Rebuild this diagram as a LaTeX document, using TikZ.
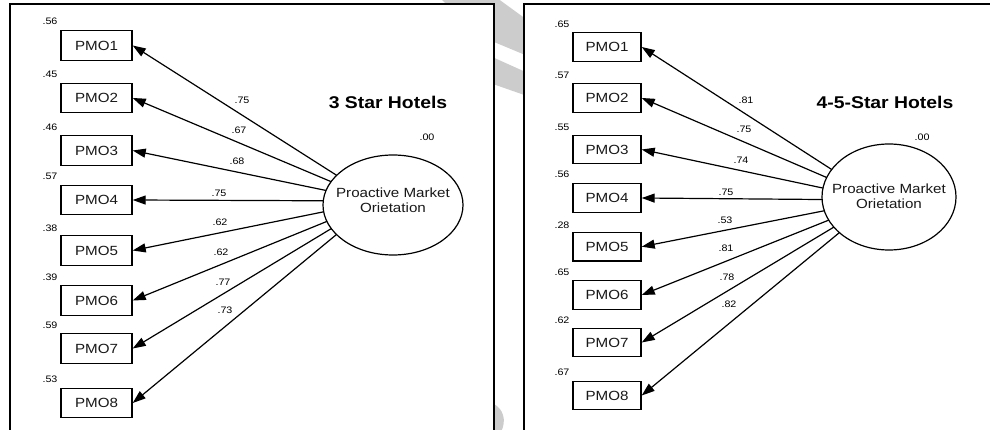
\documentclass[tikz,border=0pt]{standalone}
\usepackage{fontspec}
\setmainfont{Liberation Sans}[FakeStretch=1.14]
\usetikzlibrary{arrows.meta,shapes.geometric}
\definecolor{wmark}{gray}{0.80}
\definecolor{ink}{gray}{0.10}

\begin{document}
\begin{tikzpicture}[x=1pt,y=-1pt,
  panel/.style={draw=black,line width=2pt,fill=white},
  obs/.style={draw=black,line width=1.4pt,minimum width=71pt,minimum height=29.5pt,
    inner sep=0pt,font=\fontsize{13.3}{15}\selectfont,text=ink},
  obsR/.style={obs,minimum width=68pt,minimum height=28.5pt},
  latent/.style={draw=black,ellipse,line width=1.2pt,fill=white,inner sep=0pt},
  lattext/.style={align=center,font=\fontsize{13.3}{15}\selectfont,text=ink,inner sep=0pt},
  small/.style={font=\fontsize{9.4}{10}\selectfont,inner sep=0pt},
  title/.style={font=\fontsize{17}{20}\selectfont\bfseries,inner sep=0pt},
  load/.style={line width=1.2pt,-{Triangle[length=13pt,width=9pt]}}]

\useasboundingbox (0,0) rectangle (990,430);
\clip (0,0) rectangle (990,430);

% light grey strokes of the background mark, seen between the two panels
\fill[wmark] (440,-2) -- (497,-2) -- (530,22) -- (530,57) -- (494,42) -- (470,28) -- cycle;
\fill[wmark] (490,56) -- (530,74) -- (530,97) -- (490,83) -- cycle;
\fill[wmark] (494,404) .. controls (503,409) and (507,420) .. (501,432) -- (494,432) -- cycle;

% the two panels
\draw[panel] (10,4) rectangle (494,440);
\draw[panel] (524,4) rectangle (1000,440);

% ---------------- 3 star hotels ----------------
\node[title] (titleL) at (388,102) {3 Star Hotels};
\coordinate (srcL) at (377,201);
\foreach \i/\by/\ey/\ev/\lx/\ly/\lv in {
  1/45.5/21/.56/242/100/.75,
  2/98/74/.45/239/130/.67,
  3/150.5/127/.46/237/161/.68,
  4/200/176/.57/219/193/.75,
  5/250.5/228/.38/220/222/.62,
  6/300.5/277/.39/221/252/.62,
  7/348.5/325/.59/223/282/.77,
  8/403/379/.53/225/310/.73}{
  \node[obs] (L\i) at (96.5,\by) {PMO\i};
  \node[small] (Le\i) at (50,\ey) {\ev};
  \node[small] (Lw\i) at (\lx,\ly) {\lv};
  \draw[load] (srcL) -- (L\i.east);
}
\node[latent,minimum width=140pt,minimum height=100pt] (FL) at (393,205) {};
\node[lattext] (FLt) at (393,200) {Proactive Market\\Orietation};
\node[small] (FLv) at (427,137) {.00};

% ---------------- 4-5 star hotels ----------------
\node[title] (titleR) at (885,102) {4-5-Star Hotels};
\coordinate (srcR) at (879,200);
\foreach \i/\by/\ey/\ev/\lx/\ly/\lv in {
  1/47/24/.65/746/100/.81,
  2/98/75/.57/744/129/.75,
  3/149.5/127/.55/741/160/.74,
  4/198/174/.56/726/192/.75,
  5/246.7/225/.28/725/220/.53,
  6/295/272/.65/726/248/.81,
  7/342.5/320/.62/727/277/.78,
  8/395.5/372/.67/729/304/.82}{
  \node[obsR] (R\i) at (607,\by) {PMO\i};
  \node[small] (Re\i) at (562,\ey) {\ev};
  \node[small] (Rw\i) at (\lx,\ly) {\lv};
  \draw[load] (srcR) -- (R\i.east);
}
\node[latent,minimum width=134pt,minimum height=106pt] (FR) at (889,197) {};
\node[lattext] (FRt) at (889,196) {Proactive Market\\Orietation};
\node[small] (FRv) at (922,137) {.00};

\end{tikzpicture}
\end{document}
